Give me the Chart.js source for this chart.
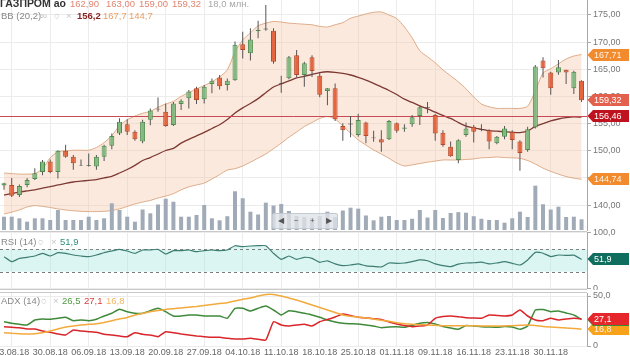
<!DOCTYPE html>
<html><head><meta charset="utf-8">
<script src="https://cdn.jsdelivr.net/npm/chart.js@4/dist/chart.umd.min.js"></script>
<style>
html,body{margin:0;padding:0;background:#fff;}
body{width:630px;height:355px;position:relative;overflow:hidden;font-family:"Liberation Sans",Arial,sans-serif;}
canvas{position:absolute;left:0;z-index:2;}
.sep{position:absolute;left:0;width:587px;background:#c9c9c9;z-index:1;}
.t{position:absolute;font-size:9.5px;white-space:nowrap;z-index:3;line-height:11px;}
.nav{position:absolute;left:272px;top:213px;width:64px;height:14px;background:rgba(222,226,231,0.8);border:1px solid #c4cad1;border-radius:2px;z-index:3;font-size:8px;color:#555;}
.nav span{position:absolute;top:2px;}
</style></head><body>
<div class="sep" style="top:231px;height:2px"></div>
<div class="sep" style="top:289px;height:1px"></div>
<div class="sep" style="top:292px;height:1px"></div>
<canvas id="cMain" width="630" height="232" style="top:0"></canvas>
<canvas id="cRsi" width="630" height="64" style="top:226px"></canvas>
<canvas id="cAdx" width="630" height="69" style="top:286px"></canvas>

<div class="t" id="h1" style="top:-2px;left:0px"></div>
<div class="t" id="h2" style="top:10px;left:1px"></div>
<div class="t" id="h3" style="top:236px;left:1px"></div>
<div class="t" id="h4" style="top:295px;left:1px"></div>
<div class="nav"><span style="left:5px">◀</span><span style="left:21px">−</span><span style="left:37px">+</span><span style="left:53px">▶</span></div>

<script>
// ---------------- DATA ----------------
const ticker = 'ГАЗПРОМ ао';
const dates = ['22.08.18','23.08.18','24.08.18','27.08.18','28.08.18','29.08.18','30.08.18','31.08.18',
'03.09.18','04.09.18','05.09.18','06.09.18','07.09.18','10.09.18','11.09.18','12.09.18','13.09.18','14.09.18',
'17.09.18','18.09.18','19.09.18','20.09.18','21.09.18','24.09.18','25.09.18','26.09.18','27.09.18','28.09.18',
'01.10.18','02.10.18','03.10.18','04.10.18','05.10.18','08.10.18','09.10.18','10.10.18','11.10.18','12.10.18',
'15.10.18','16.10.18','17.10.18','18.10.18','19.10.18','22.10.18','23.10.18','24.10.18','25.10.18','26.10.18',
'29.10.18','30.10.18','31.10.18','01.11.18','02.11.18','06.11.18','07.11.18','08.11.18','09.11.18',
'12.11.18','13.11.18','14.11.18','15.11.18','16.11.18','19.11.18','20.11.18','21.11.18','22.11.18','23.11.18',
'26.11.18','27.11.18','28.11.18','29.11.18','30.11.18','03.12.18','04.12.18','05.12.18','06.12.18'];
const tickLabels = ['23.08.18','30.08.18','06.09.18','13.09.18','20.09.18','27.09.18','04.10.18','11.10.18',
'18.10.18','25.10.18','01.11.18','09.11.18','16.11.18','23.11.18','30.11.18'];

const open = [143.6,143.7,141.85,143.7,144.8,146.1,148.0,146.1,150.0,148.9,
147.4,147.35,147.1,148.9,150.9,153.2,154.9,153.5,151.7,155.7,
157.6,157.2,154.75,158.6,159.65,161.5,159.5,162.3,163.5,162.1,
163.0,169.6,167.95,172.0,172.5,172.1,162.3,163.35,167.6,163.95,
167.2,163.8,161.0,161.5,154.55,154.85,152.9,155.2,152.45,152.1,
152.1,155.05,154.05,154.9,156.4,157.9,156.6,153.3,150.75,148.3,
152.9,154.4,153.85,153.8,151.4,152.6,153.5,151.7,150.15,154.3,
166.6,164.4,164.4,164.9,161.5,162.9];
const high = [144.1,145.0,143.8,145.0,146.8,148.3,148.4,150.1,151.1,149.2,
148.4,149.5,149.2,151.1,153.2,156.0,155.8,153.8,155.7,157.8,
159.8,158.7,159.0,159.5,161.2,161.8,162.1,163.3,163.95,163.3,
170.1,171.9,172.55,173.95,176.85,172.55,163.8,167.45,168.55,166.4,
167.6,164.3,161.55,162.4,155.05,156.4,156.8,155.35,153.7,153.8,
155.65,155.2,154.9,156.6,158.25,159.0,156.8,153.8,151.7,152.1,
155.2,154.75,154.9,153.95,152.7,154.55,153.8,151.95,154.4,165.8,
167.2,164.55,166.7,164.9,164.75,163.0];
const low = [142.8,141.5,141.5,143.3,144.6,145.5,145.85,144.9,148.7,146.5,
147.2,147.1,146.5,148.1,150.3,152.9,152.9,151.85,151.4,154.7,
157.2,154.4,154.55,157.5,157.8,158.6,158.7,160.6,161.3,161.1,
162.9,167.0,166.6,170.7,172.1,166.0,160.7,163.15,163.6,161.8,
163.6,159.85,158.4,155.5,151.85,152.5,152.6,151.4,151.65,149.8,
152.0,153.3,153.5,154.4,154.75,156.9,151.85,150.75,148.9,147.7,
152.6,151.5,153.6,150.3,151.2,152.1,150.3,146.3,149.8,154.1,
163.5,160.3,164.0,162.3,160.45,159.0];
const close = [144.0,141.7,143.5,144.6,145.85,148.0,146.1,150.0,148.9,147.7,
147.3,147.2,148.9,150.9,152.7,155.35,153.5,152.1,155.35,157.4,
157.75,154.55,158.7,159.2,160.9,159.35,161.8,162.9,161.9,162.9,
169.5,168.55,170.5,172.3,172.35,166.4,162.45,167.2,163.95,166.1,
164.7,160.3,161.5,155.8,153.8,155.0,155.65,152.7,152.3,151.5,
155.5,153.7,154.3,156.15,158.0,158.05,153.2,151.05,149.0,151.95,
154.1,153.5,154.0,151.7,152.6,154.1,152.0,149.6,153.95,165.5,
165.2,161.5,165.4,164.4,164.55,159.32];
const volume = [22.4,22.4,19.7,14.0,19.7,19.7,16.8,33.7,16.8,16.8,
16.8,22.4,16.8,19.7,44.9,33.7,22.4,14.0,34.5,28.1,
42.9,52.7,47.6,22.4,22.4,25.3,42.1,19.7,16.3,23.2,
65.2,53.4,30.8,26.1,46.0,41.2,43.8,32.0,23.6,21.9,
20.2,23.6,30.8,21.9,32.8,37.5,35.9,24.4,16.3,22.4,
23.6,16.8,16.8,18.9,33.7,21.0,33.7,20.2,28.6,30.0,
29.1,23.2,18.9,16.8,16.8,12.3,19.7,30.8,21.9,74.6,
43.3,34.5,39.2,21.9,22.4,18.0];
const bbUpper = [145.9,145.8,145.7,145.7,145.8,146.7,148.7,149.8,150.0,150.1,
150.1,150.1,150.6,151.5,152.8,154.6,155.7,156.4,156.9,157.25,
158.0,158.6,159.1,160.0,160.7,161.4,162.0,162.7,163.6,164.9,
168.2,170.4,171.7,173.0,173.5,173.8,173.7,173.5,173.4,173.3,
173.2,172.9,172.8,173.2,173.6,174.4,174.8,175.2,175.5,175.55,
175.0,174.35,172.8,170.8,168.4,167.3,166.2,164.9,163.8,162.7,
161.4,159.9,158.6,158.1,157.8,157.8,157.8,157.8,158.2,161.0,
164.3,165.1,166.0,166.9,167.45,167.71];
const bbMiddle = [141.85,142.1,142.4,142.6,142.8,143.1,143.4,143.7,144.0,144.25,
144.4,144.55,144.7,145.0,145.3,145.9,146.55,147.3,148.2,148.75,
149.4,150.05,150.45,151.4,152.1,152.75,153.4,154.1,154.8,155.75,
156.95,157.9,158.7,159.6,160.7,161.75,162.3,162.85,163.4,163.7,
164.05,164.4,164.55,164.45,164.25,163.95,163.5,163.0,162.4,161.75,
161.1,160.35,159.5,158.9,158.25,157.7,157.1,156.5,155.95,155.2,
154.55,154.2,153.95,153.7,153.6,153.5,153.4,153.35,153.6,154.5,
155.0,155.5,155.85,156.1,156.25,156.2];
const bbLower = [138.35,138.7,139.1,139.65,139.9,139.75,139.55,139.3,139.1,138.95,
138.85,138.8,138.8,138.85,139.0,139.3,139.75,140.2,140.55,140.85,
141.3,141.65,142.1,142.8,143.35,143.7,144.05,144.8,145.6,146.45,
146.7,147.2,147.9,148.65,149.4,150.4,151.4,152.5,153.45,154.45,
155.2,155.95,156.3,155.85,154.55,153.25,152.0,151.05,150.15,149.4,
148.6,147.75,147.2,147.4,147.65,147.9,148.1,148.3,148.3,148.3,
148.4,148.5,148.7,148.75,148.85,148.75,148.7,148.6,148.2,147.55,
146.8,146.2,145.7,145.25,144.95,144.74];
const refLevel = 156.46;
const rsi = [56.8,47.9,53.9,55.7,58.0,62.8,58.0,63.9,62.8,59.8,
58.0,56.8,59.8,63.9,67.0,70.0,67.0,62.8,68.75,68.75,
70.0,61.6,67.5,67.5,68.75,65.7,67.5,68.75,67.5,68.75,
76.4,74.6,75.9,76.4,76.4,62.8,52.1,58.0,52.1,55.7,
53.9,46.8,49.5,44,41,42,44,40.5,39.5,38.5,
45.5,45,45.5,48,51,49.5,44,41,38.9,43.5,
45.5,46,47,44,45.5,48,45,42,51,64.5,
63,57,59.8,59,59.5,51.9];
const rsiLevels = [70, 30];
const diPlus = [24.3,22.7,21.7,21,26,27,26.7,27.7,28.7,25.3,
26,25.3,26.7,30,32.7,36.7,34.3,32.7,32.7,35.3,
37.7,34.3,30,30,31,31,30,30,30,27.7,
37.7,37.7,35,37.7,40,36,31,35.3,34.3,32.7,
31,28.7,26,24,22.7,22.3,22,21,20,18.3,
19,19.3,18.7,20.5,22.7,23.5,22,19.5,18,16.7,
20.5,20,19.3,19,18.7,19.5,19,16.7,20,36,
36.5,34.3,35,33,31,26.5];
const diMinus = [19.3,18.7,18.3,17,17,15,13.7,12,11,16,
15,14.3,13.7,11.7,11,10,9.3,13.3,11.7,11,
9.3,14.3,13.3,12,11,10,9.3,8.7,8.7,7.7,
7,7,7.7,6.7,6,24.3,21,20,21,21.7,
20,24.3,26.5,29,32,30.5,28.7,28,27.3,26.5,
24,22,20.5,19.3,20,21,27.7,29.5,30,29.3,
28.3,28,27.7,31,30.5,30,31,36,30,26,
25.3,27.7,26,27,27.7,27.1];
const adx = [13.3,12.7,12.3,12,12.3,13.3,15,17,19,20,
21,21.7,22.3,23.5,25.3,27,28.5,31,32.5,34.3,
35.5,36.6,37.3,38,38.8,39.5,40.5,41.5,42.5,43.3,
45,46.7,48,50,51.5,51.5,50,48,46,43.5,
41,38.5,36,33.5,31,29.7,28.8,28,27,25.7,
24.7,23.3,22.3,21.7,21.3,21,20.7,20.3,20.3,20.3,
20.3,20.2,20,20,20,20,20.3,20.7,21,20.5,
19.5,19,18.6,18,17.5,16.8];

// ---------------- HELPERS ----------------
const fmt = (v, d) => v.toFixed(d).replace('.', ',');
const last = a => a[a.length - 1];
const idx = dates.map((_, i) => i);
const pts = a => a.map((v, i) => ({x: i, y: v}));
const tickIdx = tickLabels.map(l => dates.indexOf(l));
const X_MIN = -0.52, X_MAX = 75.71;
const FONT = '"Liberation Sans", Arial, sans-serif';
Chart.defaults.font.family = FONT;
Chart.defaults.font.size = 9;
Chart.defaults.color = '#777';
Chart.defaults.animation = false;

// headers
const sp = (txt, left, color, bold, size) => `<span style="position:absolute;left:${left}px;color:${color};${bold?'font-weight:bold;':''}${size?'font-size:'+size+'px;':''}">${txt}</span>`;
document.getElementById('h1').innerHTML =
  sp(ticker, 0, '#333', true, 10.5) + sp(fmt(last(open),2), 70, '#e08672') + sp(fmt(last(high),2), 106, '#e08672') +
  sp(fmt(last(low),2), 139, '#e08672') + sp(fmt(last(close),2), 172, '#e08672') + sp(fmt(last(volume),1) + ' млн.', 208, '#a8a8a8');
document.getElementById('h2').innerHTML =
  sp('BB (20,2)', 0, '#888') + sp('∞', 39, '#c4c4c4') + sp('○', 53, '#c4c4c4') + sp('×', 65, '#c4c4c4') +
  sp(fmt(last(bbMiddle),1), 76, '#8a2222', true) + sp(fmt(last(bbUpper),1), 102, '#e9a064') + sp(fmt(last(bbLower),1), 128, '#e9a064');
document.getElementById('h3').innerHTML =
  sp('RSI (14)', 0, '#888') + sp('○', 37, '#c4c4c4') + sp('×', 50, '#c4c4c4') + sp(fmt(last(rsi),1), 59, '#2f8f7f');
document.getElementById('h4').innerHTML =
  sp('ADX (14)', 0, '#888') + sp('○', 40, '#c4c4c4') + sp('×', 52, '#c4c4c4') +
  sp(fmt(last(diPlus),1), 61, '#4f9a3f') + sp(fmt(last(diMinus),1), 83, '#e03a3a') + sp(fmt(last(adx),1), 105, '#f0b860');

// scales
const xScale = (labelH) => ({
  type: 'linear', min: X_MIN, max: X_MAX, offset: false,
  grid: {color: '#ececec', drawTicks: false, offset: false},
  border: {display: false},
  ticks: {display: labelH > 0, autoSkip: false, maxRotation: 0, padding: 1, color: '#666', font: {size: 9},
          callback: v => dates[v] || ''},
  afterBuildTicks: s => { s.ticks = tickIdx.map(v => ({value: v})); },
  afterFit: s => { s.height = labelH; s.paddingLeft = 0; s.paddingRight = 0; }
});
const yRight = (extra) => Object.assign({
  position: 'right',
  border: {display: true, color: '#a8a8a8'},
  grid: {color: '#ececec', tickColor: '#a8a8a8', tickLength: 4},
  ticks: {padding: 2, color: '#777', font: {size: 9}},
  afterFit: s => { s.width = 43; s.paddingTop = 0; s.paddingBottom = 0; }
}, extra);

// value tags on the right axis
const tagPlugin = (items) => ({
  id: 'tags',
  afterDraw(chart) {
    const ctx = chart.ctx, ys = chart.scales.y, x0 = chart.chartArea.right;
    items.forEach(t => {
      const py = Math.round(ys.getPixelForValue(t.value));
      ctx.save();
      ctx.fillStyle = t.bg;
      ctx.beginPath();
      ctx.moveTo(x0 + 0.5, py); ctx.lineTo(x0 + 6, py - 6); ctx.lineTo(629, py - 6);
      ctx.lineTo(629, py + 6); ctx.lineTo(x0 + 6, py + 6); ctx.closePath(); ctx.fill();
      ctx.fillStyle = t.fg || '#fff';
      ctx.font = '9px ' + FONT;
      ctx.textBaseline = 'middle';
      ctx.fillText(t.text, x0 + 7, py + 0.5);
      ctx.restore();
    });
  }
});

// ---------------- MAIN CHART ----------------
const isDoji = i => Math.abs(close[i] - open[i]) < 0.2;
const isUp = i => close[i] >= open[i];
const bodyFill = idx.map(i => isDoji(i) ? '#555' : isUp(i) ? '#82b981' : '#e5653f');
const bodyBorder = idx.map(i => isDoji(i) ? '#444' : isUp(i) ? '#4e8a4d' : '#b54a2b');

const refLinePlugin = {
  id: 'refLine',
  beforeDatasetDraw(chart, args) {
    if (args.index !== 4) return;
    const ctx = chart.ctx, a = chart.chartArea, py = Math.round(chart.scales.y.getPixelForValue(refLevel)) + 0.5;
    ctx.save(); ctx.strokeStyle = '#c84a55'; ctx.lineWidth = 1;
    ctx.beginPath(); ctx.moveTo(a.left, py); ctx.lineTo(a.right, py); ctx.stroke(); ctx.restore();
  }
};

new Chart(document.getElementById('cMain'), {
  type: 'bar',
  data: {datasets: [
    {type: 'line', data: pts(bbUpper), borderColor: '#dcaa86', borderWidth: 1, pointRadius: 0, tension: 0.25,
     fill: {target: 1}, backgroundColor: 'rgba(248,200,170,0.4)', order: 10, yAxisID: 'y'},
    {type: 'line', data: pts(bbLower), borderColor: '#dcaa86', borderWidth: 1, pointRadius: 0, tension: 0.25,
     fill: false, order: 9, yAxisID: 'y'},
    {type: 'bar', data: pts(volume), backgroundColor: '#a0abb7', grouped: false, maxBarThickness: 4, order: 8, yAxisID: 'yv'},
    {type: 'line', data: pts(bbMiddle), borderColor: '#7d3a34', borderWidth: 1.3, pointRadius: 0, tension: 0.25,
     fill: false, order: 7, yAxisID: 'y'},
    {type: 'bar', data: idx.map(i => ({x: i, y: [low[i], high[i]]})), backgroundColor: '#555',
     grouped: false, maxBarThickness: 1, order: 2, yAxisID: 'y'},
    {type: 'bar', data: idx.map(i => ({x: i, y: [open[i], close[i]]})), backgroundColor: bodyFill,
     borderColor: bodyBorder, borderWidth: 1, borderSkipped: false, grouped: false, maxBarThickness: 5, order: 1, yAxisID: 'y'}
  ]},
  options: {
    responsive: false, devicePixelRatio: 1,
    layout: {padding: {top: 0, bottom: 2, left: 0, right: 0}},
    plugins: {legend: {display: false}, tooltip: {enabled: false}},
    scales: {
      x: xScale(0),
      y: yRight({min: 135.41, max: 177.76, ticks: {padding: 2, color: '#777', font: {size: 9}, stepSize: 5,
          includeBounds: false, callback: v => fmt(v, 2)}}),
      yv: {display: false, min: 0, max: 387}
    }
  },
  plugins: [refLinePlugin, tagPlugin([
    {value: last(bbUpper), text: fmt(last(bbUpper), 2), bg: '#f28a2e', fg: '#fff3e6'},
    {value: last(close), text: fmt(last(close), 2), bg: '#e2604c', fg: '#fff'},
    {value: refLevel, text: fmt(refLevel, 2), bg: '#c0121e', fg: '#fff'},
    {value: last(bbLower), text: fmt(last(bbLower), 2), bg: '#f28a2e', fg: '#fff3e6'}
  ])]
});

// ---------------- RSI CHART ----------------
const rsiBandPlugin = {
  id: 'rsiBand',
  beforeDatasetsDraw(chart) {
    const ctx = chart.ctx, a = chart.chartArea, ys = chart.scales.y;
    const yTop = ys.getPixelForValue(rsiLevels[0]), yBot = ys.getPixelForValue(rsiLevels[1]);
    ctx.save();
    ctx.fillStyle = 'rgba(175,232,228,0.45)';
    ctx.fillRect(a.left, yTop, a.right - a.left, yBot - yTop);
    ctx.strokeStyle = '#7a7a7a'; ctx.lineWidth = 1; ctx.setLineDash([3, 3]);
    [yTop, yBot].forEach(py => { const p = Math.round(py) + 0.5; ctx.beginPath(); ctx.moveTo(a.left, p); ctx.lineTo(a.right, p); ctx.stroke(); });
    ctx.restore();
  }
};
new Chart(document.getElementById('cRsi'), {
  type: 'line',
  data: {datasets: [{data: pts(rsi), borderColor: '#3d7d72', borderWidth: 1.2, pointRadius: 0, tension: 0.15,
    fill: {target: {value: rsiLevels[0]}, above: 'rgba(175,232,228,0.45)', below: 'rgba(0,0,0,0)'}}]},
  options: {
    responsive: false, devicePixelRatio: 1,
    layout: {padding: {top: 6.5, bottom: 1.5, left: 0, right: 0}},
    plugins: {legend: {display: false}, tooltip: {enabled: false}},
    scales: {
      x: xScale(0),
      y: yRight({min: 0, max: 100,
        afterBuildTicks: s => { s.ticks = [{value: 0}, {value: 100}]; },
        ticks: {padding: 2, color: '#777', font: {size: 9}, callback: v => v === 0 ? '0' : fmt(v, 1)}})
    }
  },
  plugins: [rsiBandPlugin, tagPlugin([{value: last(rsi), text: fmt(last(rsi), 1), bg: '#0f6e5e', fg: '#fff'}])]
});

// ---------------- ADX CHART ----------------
const lineDs = (arr, color) => ({data: pts(arr), borderColor: color, borderWidth: 1.5, pointRadius: 0, tension: 0.15, fill: false});
new Chart(document.getElementById('cAdx'), {
  type: 'line',
  data: {datasets: [lineDs(adx, '#f2aa3c'), lineDs(diMinus, '#d9262b'), lineDs(diPlus, '#3f8a3a')]},
  options: {
    responsive: false, devicePixelRatio: 1,
    layout: {padding: {top: 7, bottom: 0, left: 0, right: 0}},
    plugins: {legend: {display: false}, tooltip: {enabled: false}},
    scales: {
      x: xScale(9),
      y: yRight({min: 0, max: 53,
        afterBuildTicks: s => { s.ticks = [{value: 0}, {value: 50}]; },
        ticks: {padding: 2, color: '#777', font: {size: 9}, callback: v => v === 0 ? '0' : fmt(v, 1)}})
    }
  },
  plugins: [tagPlugin([
    {value: last(adx), text: fmt(last(adx), 1), bg: '#f7a21b', fg: '#fff3e0'},
    {value: last(diPlus), text: fmt(last(diPlus), 1), bg: '#3d8b37', fg: '#fff'},
    {value: last(diMinus), text: fmt(last(diMinus), 1), bg: '#e5262b', fg: '#fff'}
  ])]
});
</script>
</body></html>
